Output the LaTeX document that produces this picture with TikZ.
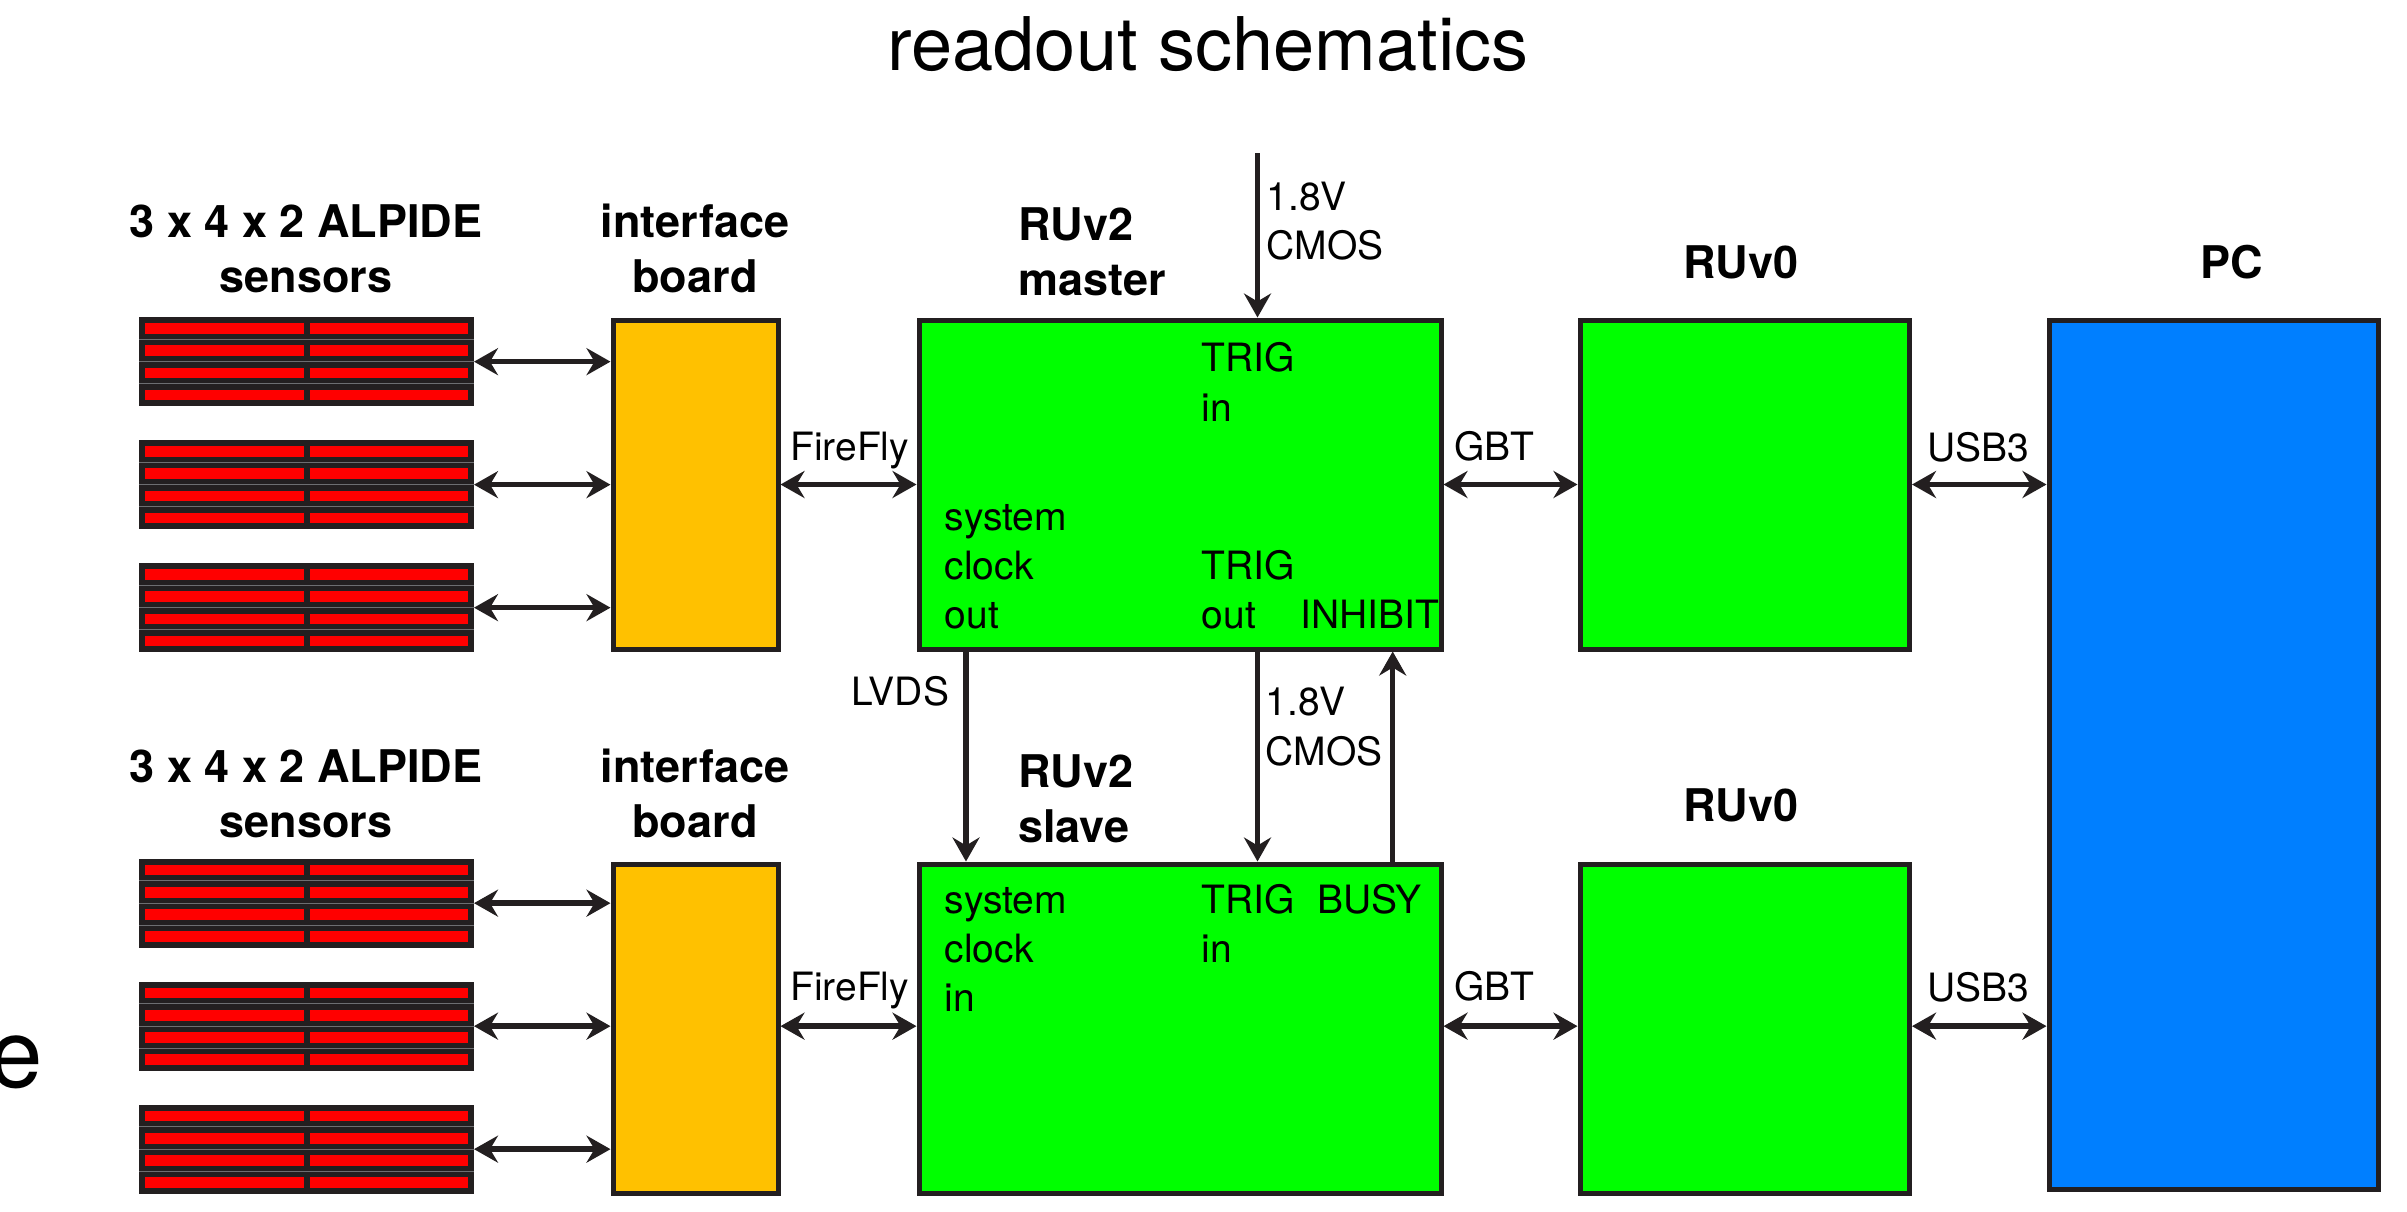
\documentclass[tikz,border=0pt]{standalone}
\usepackage{fontspec}
\setmainfont{TeX Gyre Heros}
\usetikzlibrary{arrows.meta,calc}
\definecolor{ink}{HTML}{231F20}
\definecolor{sred}{HTML}{FF0000}
\definecolor{ibcol}{HTML}{FFC100}
\definecolor{rugreen}{HTML}{00FF00}
\definecolor{pcblue}{HTML}{007FFF}
\definecolor{sepgray}{HTML}{6D6E71}
\tikzset{
  box/.style={draw=ink, line width=5pt, inner sep=0pt},
  sensorbar/.style={fill=ink, inner sep=0pt, outer sep=0pt, minimum width=334.7pt, minimum height=88.7pt},
  conn/.style={draw=ink, line width=5.5pt, -{Stealth[length=24pt,width=27pt,inset=8pt]}},
  dconn/.style={draw=ink, line width=5.5pt, {Stealth[length=24pt,width=27pt,inset=8pt]}-{Stealth[length=24pt,width=27pt,inset=8pt]}},
  lbl/.style={font=\fontsize{39}{49.3}\selectfont, inner sep=0pt, align=left, anchor=base west},
  blbl/.style={font=\fontsize{45}{54.5}\selectfont\bfseries, inner sep=0pt, align=center, anchor=base},
}
\begin{document}
\begin{tikzpicture}[x=1pt,y=-1pt]
\fill[white] (0,0) rectangle (2407,1211);
\useasboundingbox (0,0) rectangle (2407,1211);

% boxes
\node[box, fill=ibcol, minimum width=165pt, minimum height=329pt] (ib1) at (695.5,484.5) {};
\node[box, fill=rugreen, minimum width=522pt, minimum height=329pt] (m) at (1180,484.5) {};
\node[box, fill=rugreen, minimum width=329.5pt, minimum height=329pt] (r1) at (1744.75,484.5) {};
\node[box, fill=ibcol, minimum width=165pt, minimum height=329pt] (ib2) at (695.5,1028.5) {};
\node[box, fill=rugreen, minimum width=522pt, minimum height=329pt] (s) at (1180,1028.5) {};
\node[box, fill=rugreen, minimum width=329.5pt, minimum height=329pt] (r2) at (1744.75,1028.5) {};
\node[box, fill=pcblue, minimum width=329.5pt, minimum height=869.5pt] (pc) at (2213.75,754.75) {};

% sensor bars
\node[sensorbar] (a1) at (306.65,361.65) {};
\node[sensorbar] (a2) at (306.65,484.65) {};
\node[sensorbar] (a3) at (306.65,607.65) {};
\node[sensorbar] (b1) at (306.65,903.15) {};
\node[sensorbar] (b2) at (306.65,1026.15) {};
\node[sensorbar] (b3) at (306.65,1149.15) {};
\foreach \n in {a1,a2,a3,b1,b2,b3}{
  \foreach \r in {0,1,2,3}{
    \fill[sred] ($(\n.north west)+(5.7,6+22.17*\r)$) rectangle ++(158.7,10.6);
    \fill[sred] ($(\n.north west)+(170.4,6+22.17*\r)$) rectangle ++(158.6,10.6);
  }
  \foreach \r in {1,2,3}{
    \draw[sepgray, line width=1pt] ($(\n.north west)+(0,22.17*\r)$) -- ++(334.7,0);
  }
}

% horizontal connectors
\foreach \n in {a1,a2,a3} \draw[dconn] (\n.east) -- (\n.east -| ib1.west);
\foreach \n in {b1,b2,b3} \draw[dconn] (\n.east) -- (\n.east -| ib2.west);
\draw[dconn] (ib1.east) -- (m.west);
\draw[dconn] (m.east) -- (r1.west);
\draw[dconn] (r1.east) -- (r1.east -| pc.west);
\draw[dconn] (b2.east -| ib2.east) -- (b2.east -| s.west);
\draw[dconn] (b2.east -| s.east) -- (b2.east -| r2.west);
\draw[dconn] (b2.east -| r2.east) -- (b2.east -| pc.west);

% vertical connectors
\coordinate (vin) at (1257.5,153.3);
\coordinate (lvx) at (966,0);
\coordinate (tgx) at (1257.5,0);
\coordinate (ihx) at (1392.7,0);
\draw[conn] (vin) -- (vin |- m.north);
\draw[conn] (lvx |- m.south) -- (lvx |- s.north);
\draw[conn] (tgx |- m.south) -- (tgx |- s.north);
\draw[conn] (ihx |- s.north) -- (ihx |- m.south);

% labels (multi-line nodes: base = baseline of the last line)
\node[font=\fontsize{74}{80}\selectfont, inner sep=0pt, anchor=base] (title) at (1208,70) {readout schematics};
\node[blbl] (senlab1) at (306,292) {3 x 4 x 2 ALPIDE\\sensors};
\node[blbl] (iblab1) at (695,292) {interface\\board};
\node[blbl, align=left, anchor=base west] (mlab) at (1018,295) {RUv2\\master};
\node[lbl] (vlab1) at (1266.5,259.7) {1.8V\\CMOS};
\node[blbl] (r1lab) at (1741,278) {RUv0};
\node[blbl] (pclab) at (2232,278) {PC};
\node[lbl] (mtin) at (1201.5,421) {TRIG\\in};
\node[lbl, anchor=base] (fflab1) at (849.5,460.7) {FireFly};
\node[lbl] (gbt1) at (1454,460.7) {GBT};
\node[lbl] (usb1) at (1927,461) {USB3};
\node[lbl] (mclk) at (944.5,628.6) {system\\clock\\out};
\node[lbl] (mtout) at (1201.5,628.6) {TRIG\\out};
\node[lbl] (minh) at (1300,628.6) {INHIBIT};
\node[lbl] (lvds) at (851,705) {LVDS};
\node[lbl] (vlab2) at (1265.5,765) {1.8V\\CMOS};

\node[blbl] (senlab2) at (306,837) {3 x 4 x 2 ALPIDE\\sensors};
\node[blbl] (iblab2) at (695,837) {interface\\board};
\node[blbl, align=left, anchor=base west] (slab) at (1018,842) {RUv2\\slave};
\node[blbl] (r2lab) at (1741,821.7) {RUv0};
\node[lbl] (sclk) at (944.5,1011.6) {system\\clock\\in};
\node[lbl] (stin) at (1201.5,962.3) {TRIG\\in};
\node[lbl] (sbusy) at (1317,913) {BUSY};
\node[lbl, anchor=base] (fflab2) at (849.5,1000.5) {FireFly};
\node[lbl] (gbt2) at (1454,1000) {GBT};
\node[lbl] (usb2) at (1927,1001) {USB3};
\node[font=\fontsize{96}{100}\selectfont, inner sep=0pt, anchor=base east] (efrag) at (43,1087) {e};
\end{tikzpicture}
\end{document}
